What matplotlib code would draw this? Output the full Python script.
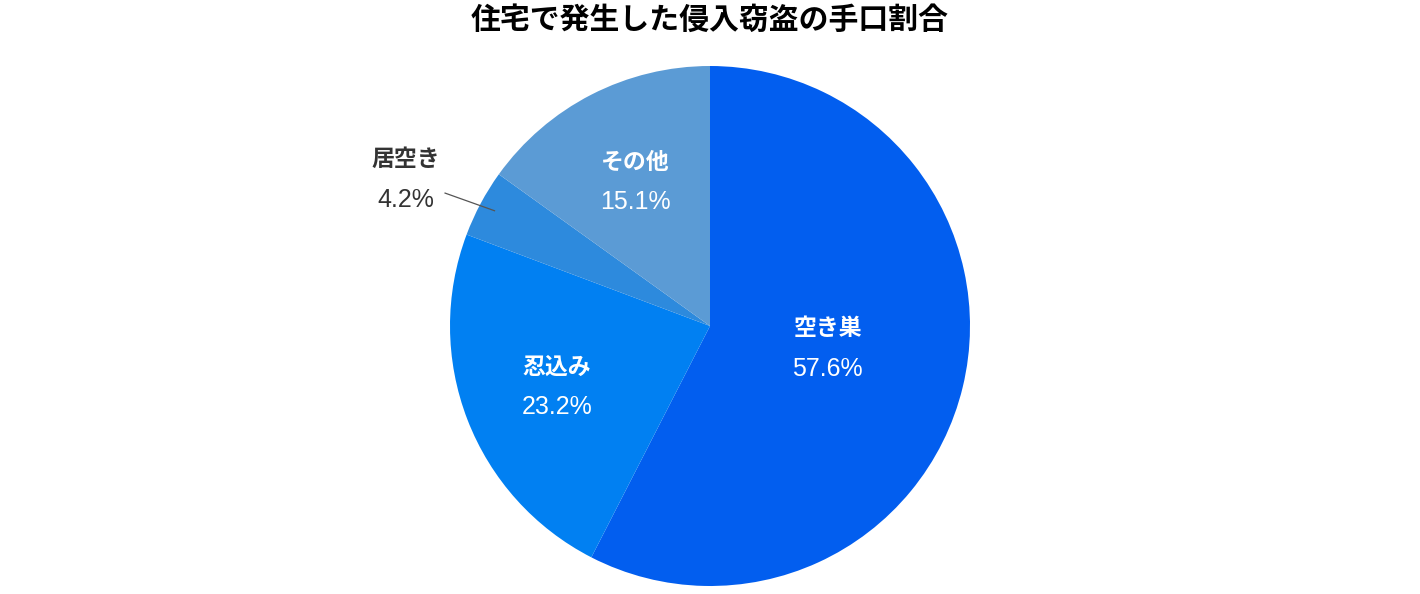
import numpy as np
import matplotlib
matplotlib.use("Agg")
import matplotlib.pyplot as plt

plt.rcParams['font.family'] = ['Noto Sans CJK JP', 'DejaVu Sans']

title = "住宅で発生した侵入窃盗の手口割合"
categories = ["空き巣", "忍込み", "居空き", "その他"]
values = [57.6, 23.2, 4.2, 15.1]
colors = ["#025EEF", "#0180F2", "#2D8ADD", "#5B9BD5"]
label_r = [0.46, 0.63, 1.30, 0.63]
inside = [True, True, False, True]

W, H = 1420, 594
fig = plt.figure(figsize=(W / 100, H / 100), dpi=100)
cx, cy, R = 710, 326, 260
ax = fig.add_axes([(cx - R) / W, (H - cy - R) / H, 2 * R / W, 2 * R / H])
wedges, _ = ax.pie(values, colors=colors, startangle=90, counterclock=False,
                   wedgeprops=dict(linewidth=0), radius=1)
ax.set_xlim(-1, 1)
ax.set_ylim(-1, 1)
ax.set_aspect('equal')
ax.axis('off')

for w, cat, v, r, ins in zip(wedges, categories, values, label_r, inside):
    ang = np.deg2rad((w.theta1 + w.theta2) / 2)
    x, y = r * np.cos(ang), r * np.sin(ang)
    col = "white" if ins else "#333333"
    if cat == "空き巣":
        ang2 = np.deg2rad(-10)
        x, y = r * np.cos(ang2), r * np.sin(ang2)
    if not ins:
        ax.plot([0.94 * np.cos(ang), 1.14 * np.cos(ang + np.deg2rad(1.5))],
                [0.94 * np.sin(ang), 1.14 * np.sin(ang + np.deg2rad(1.5))],
                color="#555555", lw=0.9, clip_on=False)
        ang2 = np.deg2rad(154)
        x, y = r * np.cos(ang2), r * np.sin(ang2)
    ax.text(x, y + 0.07, cat, ha='center', va='center', fontsize=16.5,
            fontweight='bold', color=col, clip_on=False)
    ax.text(x, y - 0.085, f"{v:.1f}%", ha='center', va='center', fontsize=18,
            family=['Liberation Sans', 'DejaVu Sans'], color=col, clip_on=False)

fig.text(cx / W, 1 - 20 / H, title, ha='center', va='center', fontsize=21.5,
         fontweight='bold', color='#000000')

fig.savefig("out.png", dpi=100, facecolor='white')
